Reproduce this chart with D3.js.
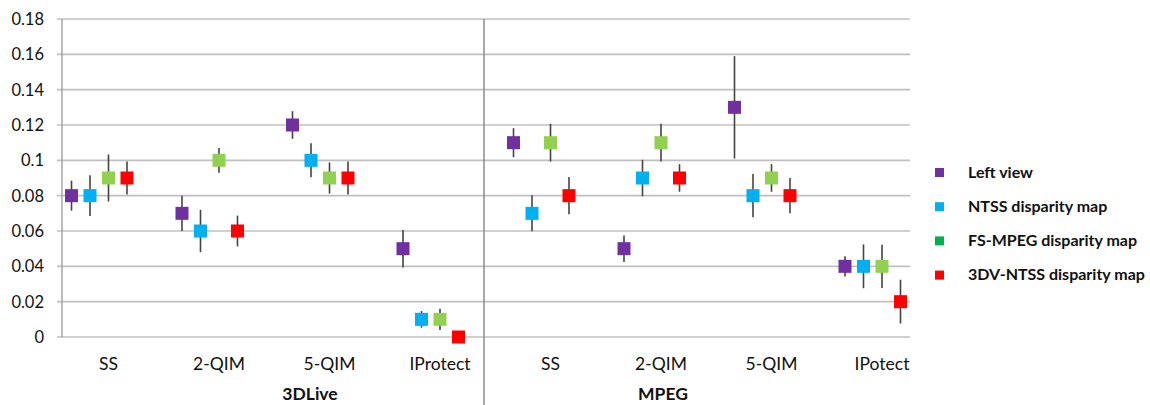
<html>
<head>
<script src="https://d3js.org/d3.v7.min.js"></script>
<style>
  body { margin: 0; background: #fff; }
  text { font-family: Lato, "Open Sans", sans-serif; fill: #111; }
</style>
</head>
<body>
<svg id="chart" width="1150" height="405"></svg>
<script>
// categories along the x axis
var categories = ["SS", "2-QIM", "5-QIM", "IProtect", "SS ", "2-QIM ", "5-QIM ", "IPotect"];
var catLabels = ["SS", "2-QIM", "5-QIM", "IProtect", "SS", "2-QIM", "5-QIM", "IPotect"];
var groups = ["3DLive", "MPEG"];

var seriesNames = ["Left view", "NTSS disparity map", "FS-MPEG disparity map", "3DV-NTSS disparity map"];
var seriesColors = ["#7030a0", "#00b0f0", "#92d050", "#ff0000"];
var legendColors = ["#7030a0", "#00b0f0", "#00b050", "#ff0000"];

// values per series
var leftView = [0.08, 0.07, 0.12, 0.05, 0.11, 0.05, 0.13, 0.04];
var ntss     = [0.08, 0.06, 0.10, 0.01, 0.07, 0.09, 0.08, 0.04];
var fsMpeg   = [0.09, 0.10, 0.09, 0.01, 0.11, 0.11, 0.09, 0.04];
var dvNtss   = [0.09, 0.06, 0.09, 0.00, 0.08, 0.09, 0.08, 0.02];

// +/- error per series
var leftViewErr = [0.0085, 0.010, 0.0078, 0.0106, 0.0082, 0.0075, 0.029, 0.0057];
var ntssErr     = [0.0115, 0.012, 0.0096, 0.0047, 0.0102, 0.0103, 0.0122, 0.0124];
var fsMpegErr   = [0.0133, 0.007, 0.0088, 0.006, 0.0107, 0.0107, 0.0078, 0.0122];
var dvNtssErr   = [0.0093, 0.0087, 0.0093, 0, 0.0105, 0.0078, 0.010, 0.0124];

var yTicks = [0, 0.02, 0.04, 0.06, 0.08, 0.1, 0.12, 0.14, 0.16, 0.18];

var values = [leftView, ntss, fsMpeg, dvNtss];
var errors = [leftViewErr, ntssErr, fsMpegErr, dvNtssErr];

var svg = d3.select("#chart");

var y = d3.scaleLinear().domain([0, 0.18]).range([337, 19]);
var x = d3.scalePoint().domain(categories).range([108.5, 882]);
var offset = d3.scalePoint().domain(d3.range(4)).range([-37, 18.5]);

// gridlines
svg.append("g").selectAll("line")
  .data(yTicks)
  .enter().append("line")
  .attr("x1", 57).attr("x2", 910)
  .attr("y1", function(d) { return y(d); })
  .attr("y2", function(d) { return y(d); })
  .attr("stroke", "#c0c0c0")
  .attr("stroke-width", 1.6);

// y axis labels
svg.append("g").selectAll("text")
  .data(yTicks)
  .enter().append("text")
  .attr("x", 44)
  .attr("y", function(d) { return y(d); })
  .attr("dy", "0.36em")
  .attr("text-anchor", "end")
  .style("font-size", "16.5px")
  .text(function(d) { return d === 0 ? "0" : d3.format("")(+d.toFixed(2)); });

// axis line and group divider
svg.append("line").attr("x1", 62).attr("x2", 62).attr("y1", 19).attr("y2", 337)
  .attr("stroke", "#a6a6a6").attr("stroke-width", 1.5);
svg.append("line").attr("x1", 484).attr("x2", 484).attr("y1", 19).attr("y2", 405)
  .attr("stroke", "#8c8c8c").attr("stroke-width", 1.5);

// category labels
svg.append("g").selectAll("text")
  .data(categories)
  .enter().append("text")
  .attr("x", function(d) { return x(d); })
  .attr("y", 370)
  .attr("text-anchor", "middle")
  .style("font-size", "17.5px")
  .text(function(d, i) { return catLabels[i]; });

// group labels
svg.append("g").selectAll("text")
  .data(groups)
  .enter().append("text")
  .attr("x", function(d, i) { return i === 0 ? 310 : 663; })
  .attr("y", 400)
  .attr("text-anchor", "middle")
  .style("font-size", "17.5px")
  .style("font-weight", "bold")
  .text(function(d) { return d; });

// series: error bars and square markers
values.forEach(function(vals, s) {
  var g = svg.append("g");
  var pts = vals.map(function(v, i) { return { v: v, e: errors[s][i], c: categories[i] }; });

  g.selectAll("line")
    .data(pts.filter(function(d) { return d.e > 0; }))
    .enter().append("line")
    .attr("x1", function(d) { return x(d.c) + offset(s); })
    .attr("x2", function(d) { return x(d.c) + offset(s); })
    .attr("y1", function(d) { return y(d.v + d.e); })
    .attr("y2", function(d) { return y(d.v - d.e); })
    .attr("stroke", "#444")
    .attr("stroke-width", 1.6);

  g.selectAll("rect")
    .data(pts)
    .enter().append("rect")
    .attr("x", function(d) { return x(d.c) + offset(s) - 6.5; })
    .attr("y", function(d) { return y(d.v) - 6.5; })
    .attr("width", 13)
    .attr("height", 13)
    .attr("fill", seriesColors[s]);
});

// legend
var legend = svg.append("g").selectAll("g")
  .data(seriesNames)
  .enter().append("g")
  .attr("transform", function(d, i) { return "translate(935," + (172 + i * 34.2) + ")"; });

legend.append("rect")
  .attr("x", 0).attr("y", -4)
  .attr("width", 9).attr("height", 9)
  .attr("fill", function(d, i) { return legendColors[i]; });

legend.append("text")
  .attr("x", 33)
  .attr("y", 0)
  .attr("dy", "0.35em")
  .style("font-size", "16px")
  .style("font-weight", "bold")
  .text(function(d) { return d; });
</script>
</body>
</html>
